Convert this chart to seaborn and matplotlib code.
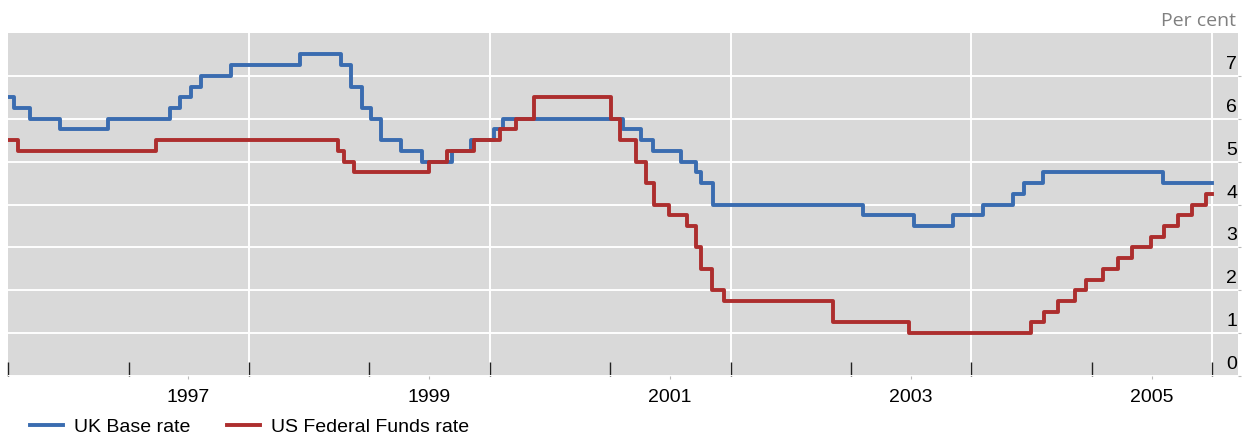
import numpy as np
import pandas as pd
import matplotlib
matplotlib.use('Agg')
import matplotlib.pyplot as plt
import matplotlib.transforms as mtransforms
import seaborn as sns

# official rate changes (date the new rate took effect), per cent
uk_dates = ['1996-01-01', '1996-01-18', '1996-03-08', '1996-06-06', '1996-10-30',
            '1997-05-06', '1997-06-06', '1997-07-10', '1997-08-07', '1997-11-06',
            '1998-06-04', '1998-10-08', '1998-11-05', '1998-12-10', '1999-01-07',
            '1999-02-04', '1999-04-08', '1999-06-10', '1999-09-08', '1999-11-04',
            '2000-01-13', '2000-02-10', '2001-02-08', '2001-04-05', '2001-05-10',
            '2001-08-02', '2001-09-18', '2001-10-04', '2001-11-08', '2003-02-06',
            '2003-07-10', '2003-11-06', '2004-02-05', '2004-05-06', '2004-06-10',
            '2004-08-05', '2005-08-04', '2006-01-01']
uk_rate = [6.5, 6.25, 6.0, 5.75, 6.0,
           6.25, 6.5, 6.75, 7.0, 7.25,
           7.5, 7.25, 6.75, 6.25, 6.0,
           5.5, 5.25, 5.0, 5.25, 5.5,
           5.75, 6.0, 5.75, 5.5, 5.25,
           5.0, 4.75, 4.5, 4.0, 3.75,
           3.5, 3.75, 4.0, 4.25, 4.5,
           4.75, 4.5, 4.5]

us_dates = ['1996-01-01', '1996-01-31', '1997-03-25', '1998-09-29', '1998-10-15',
            '1998-11-17', '1999-06-30', '1999-08-24', '1999-11-16', '2000-02-02',
            '2000-03-21', '2000-05-16', '2001-01-03', '2001-01-31', '2001-03-20',
            '2001-04-18', '2001-05-15', '2001-06-27', '2001-08-21', '2001-09-17',
            '2001-10-02', '2001-11-06', '2001-12-11', '2002-11-06', '2003-06-25',
            '2004-06-30', '2004-08-10', '2004-09-21', '2004-11-10', '2004-12-14',
            '2005-02-02', '2005-03-22', '2005-05-03', '2005-06-30', '2005-08-09',
            '2005-09-20', '2005-11-01', '2005-12-13', '2006-01-01']
us_rate = [5.5, 5.25, 5.5, 5.25, 5.0,
           4.75, 5.0, 5.25, 5.5, 5.75,
           6.0, 6.5, 6.0, 5.5, 5.0,
           4.5, 4.0, 3.75, 3.5, 3.0,
           2.5, 2.0, 1.75, 1.25, 1.0,
           1.25, 1.5, 1.75, 2.0, 2.25,
           2.5, 2.75, 3.0, 3.25, 3.5,
           3.75, 4.0, 4.25, 4.25]

year_ticks = list(range(1996, 2007))
label_years = [1997, 1999, 2001, 2003, 2005]
grid_years = [1998, 2000, 2002, 2004, 2006]
y_ticks = [0, 1, 2, 3, 4, 5, 6, 7]

uk = pd.DataFrame({'date': pd.to_datetime(uk_dates), 'rate': uk_rate})
us = pd.DataFrame({'date': pd.to_datetime(us_dates), 'rate': us_rate})

blue = '#3a6cb0'
red = '#ad2e2e'
font = ['Liberation Sans', 'DejaVu Sans']

fig = plt.figure(figsize=(12.43, 4.37), dpi=100)
ax = fig.add_axes([8 / 1243, 61 / 437, 1230 / 1243, 343 / 437])
ax.set_facecolor('#d9d9d9')

sns.lineplot(data=uk, x='date', y='rate', ax=ax, color=blue, lw=2.8,
             drawstyle='steps-post', label='UK Base rate', estimator=None)
sns.lineplot(data=us, x='date', y='rate', ax=ax, color=red, lw=2.8,
             drawstyle='steps-post', label='US Federal Funds rate', estimator=None)

ax.set_xlim(pd.Timestamp('1996-01-01'), pd.Timestamp('2006-03-20'))
ax.set_ylim(0, 8)
for s in ax.spines.values():
    s.set_visible(False)

# grid
for y in grid_years:
    ax.axvline(pd.Timestamp(f'{y}-01-01'), color='white', lw=1.4, zorder=0.5)
ax.set_yticks(y_ticks)
ax.grid(axis='y', color='white', lw=1.4)
ax.set_axisbelow(True)

# x ticks: year boundaries inside, labels at mid-year
ax.set_xticks([pd.Timestamp(f'{y}-01-01') for y in year_ticks])
ax.set_xticklabels([])
ax.set_xticks([pd.Timestamp(f'{y}-07-01') for y in label_years], minor=True)
ax.set_xticklabels([str(y) for y in label_years], minor=True)
ax.tick_params(axis='x', which='major', direction='in', length=10, width=1, color='#222222')
ax.tick_params(axis='x', which='minor', direction='out', length=2, width=0.8,
               color='#bbbbbb', pad=7, labelsize=14)
for t in ax.get_xticklabels(minor=True):
    t.set_fontfamily(font)

# y labels on the right, sitting inside the plot above their gridlines
ax.yaxis.tick_right()
ax.tick_params(axis='y', direction='out', length=2, color='#bbbbbb', pad=-2.5, labelsize=14)
ax.set_yticklabels([str(v) for v in y_ticks])
lift = mtransforms.ScaledTranslation(0, 3 / 100, fig.dpi_scale_trans)
for t in ax.get_yticklabels():
    t.set_ha('right')
    t.set_va('bottom')
    t.set_fontfamily(font)
    t.set_transform(t.get_transform() + lift)
ax.set_xlabel('')
ax.set_ylabel('')

fig.text(1236 / 1243, 1 - 21 / 437, 'Per cent', ha='right', va='center',
         fontsize=14, color='#808080', family=['Open Sans', 'DejaVu Sans'])

ax.legend(loc='center left', bbox_to_anchor=(30 / 1243, 1 - 427 / 437),
          bbox_transform=fig.transFigure, ncol=2, frameon=False,
          prop={'family': font, 'size': 14}, handlelength=1.7,
          handletextpad=0.55, columnspacing=1.9, borderpad=0, borderaxespad=0)

fig.savefig('out.png', dpi=100)
